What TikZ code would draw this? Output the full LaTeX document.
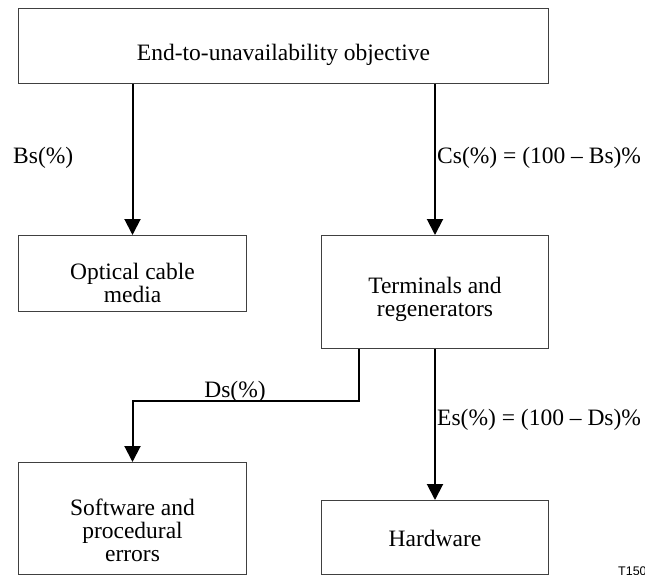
\documentclass[tikz,border=0pt]{standalone}
\usepackage{fontspec}
\setmainfont{Liberation Serif}
\newfontfamily\tagfont{Liberation Sans}
\usetikzlibrary{arrows.meta}
\begin{document}
\begin{tikzpicture}[x=1pt,y=-1pt,
  box/.style={draw=black!75,line width=1pt,inner sep=0pt,anchor=north west},
  txt/.style={font=\fontsize{23.5}{23}\selectfont,align=center,inner sep=0pt},
  lbl/.style={font=\fontsize{23.5}{23}\selectfont,inner sep=0pt},
  conn/.style={line width=2pt},
  arr/.style={conn,-{Triangle[width=16pt,length=16pt]}}]
\useasboundingbox (0,0) rectangle (645,575);

% boxes
\node[box,minimum width=530pt,minimum height=75pt]  (top)  at (18,8)    {};
\node[box,minimum width=228pt,minimum height=76pt]  (opt)  at (18,235)  {};
\node[box,minimum width=227pt,minimum height=113pt] (term) at (321,235) {};
\node[box,minimum width=228pt,minimum height=112pt] (soft) at (18,462)  {};
\node[box,minimum width=227pt,minimum height=74pt]  (hw)   at (321,500) {};

% box texts
\node[txt] (toptxt)  at ([yshift=-9pt]top.center)  {End-to-unavailability objective};
\node[txt] (opttxt)  at ([yshift=-9pt]opt.center)  {Optical cable\\media};
\node[txt] (termtxt) at ([yshift=-7pt]term.center) {Terminals and\\regenerators};
\node[txt] (softtxt) at ([yshift=-12pt]soft.center) {Software and\\procedural\\errors};
\node[txt] (hwtxt)   at ([yshift=-1pt]hw.center)   {Hardware};

% connectors
\draw[arr] (top.south -| opt.north) -- (opt.north);
\draw[arr] (top.south -| term.north) -- (term.north);
\coordinate (dsbend) at (359,401);
\draw[arr] (dsbend |- term.south) -- (dsbend) -| (soft.north);
\draw[arr] (term.south) -- (hw.north);

% connector labels
\node[lbl,anchor=base west] (bs) at (13,163)  {Bs(\%)};
\node[lbl,anchor=base west] (cs) at (437,163) {Cs(\%) = (100 – Bs)\%};
\node[lbl,anchor=base]      (ds) at (235,397) {Ds(\%)};
\node[lbl,anchor=base west] (es) at (437,425) {Es(\%) = (100 – Ds)\%};

% figure tag
\node[anchor=base west,inner sep=0pt,font=\tagfont\fontsize{12.5}{13}\selectfont] (tag) at (618,575) {T150};
\end{tikzpicture}
\end{document}
